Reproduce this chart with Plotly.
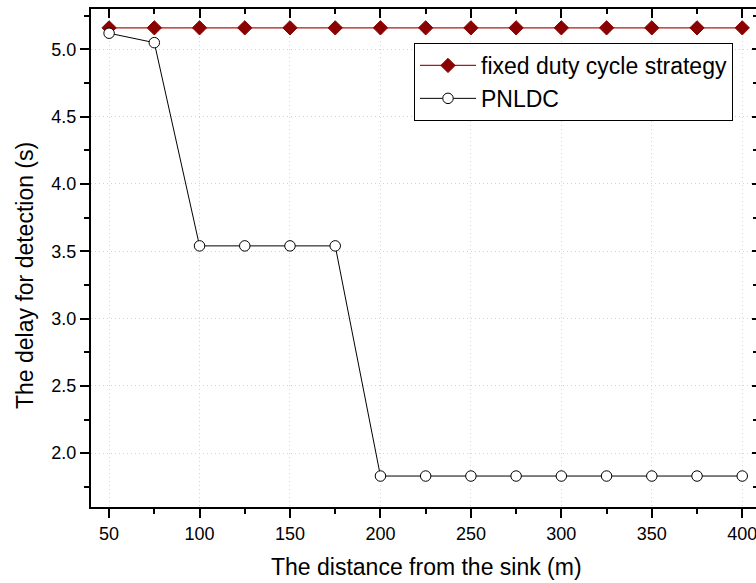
import plotly.graph_objects as go

# Distance from the sink (m)
distance = [50, 75, 100, 125, 150, 175, 200, 225, 250, 275, 300, 325, 350, 375, 400]

# Detection delay (s) for each strategy
delay_fixed = [5.16] * 15
delay_pnldc = [5.12, 5.05, 3.54, 3.54, 3.54, 3.54, 1.83, 1.83, 1.83, 1.83, 1.83, 1.83, 1.83, 1.83, 1.83]

x_ticks = [50, 100, 150, 200, 250, 300, 350, 400]
y_ticks = [2.0, 2.5, 3.0, 3.5, 4.0, 4.5, 5.0]

FONT = "Arial, Liberation Sans, sans-serif"
X_RANGE = [40, 407.6]
Y_RANGE = [1.6, 5.3]

fig = go.Figure()

fig.add_trace(go.Scatter(
    x=distance, y=delay_fixed, mode="lines+markers",
    name="fixed duty cycle strategy",
    line=dict(color="#b01818", width=1.2),
    marker=dict(symbol="diamond", size=11, color="#8b0000",
                line=dict(color="#8b0000", width=1)),
))
fig.add_trace(go.Scatter(
    x=distance, y=delay_pnldc, mode="lines+markers",
    name="PNLDC",
    line=dict(color="#000000", width=1),
    marker=dict(symbol="circle", size=10.5, color="#ffffff",
                line=dict(color="#000000", width=1)),
))

grid = dict(showgrid=True, gridcolor="#d4d4d4", griddash="1px,3px", gridwidth=1)

fig.update_layout(
    width=756, height=583,
    margin=dict(l=91, r=0, t=9, b=76),
    paper_bgcolor="white", plot_bgcolor="white",
    font=dict(family=FONT, color="#000000", size=18),
    showlegend=True,
    legend=dict(
        x=(414 - 91) / 665, xanchor="left",
        y=1 - (43 - 9) / 498, yanchor="top",
        bgcolor="white", bordercolor="#000000", borderwidth=1,
        font=dict(family=FONT, size=23, color="#000000"),
        itemwidth=56, tracegroupgap=0,
    ),
    xaxis=dict(
        range=X_RANGE, tickmode="array", tickvals=x_ticks,
        ticks="outside", ticklen=9, tickwidth=2, tickcolor="#000000",
        showline=True, linewidth=2, linecolor="#000000",
        minor=dict(ticks="outside", ticklen=5, tickwidth=2, dtick=25, tick0=50,
                   tickcolor="#000000", showgrid=False),
        tickfont=dict(size=18), ticklabeloverflow="allow", zeroline=False, **grid,
    ),
    yaxis=dict(
        range=Y_RANGE, tickmode="array", tickvals=y_ticks, tickformat=".1f",
        ticks="outside", ticklen=9, tickwidth=2, tickcolor="#000000",
        showline=True, linewidth=2, linecolor="#000000",
        minor=dict(ticks="outside", ticklen=5, tickwidth=2, dtick=0.25, tick0=2.0,
                   tickcolor="#000000", showgrid=False),
        tickfont=dict(size=18), zeroline=False, **grid,
    ),
    xaxis2=dict(
        range=X_RANGE, overlaying="x", side="top", anchor="y",
        tickmode="array", tickvals=x_ticks, showticklabels=False,
        ticks="inside", ticklen=9, tickwidth=2, tickcolor="#000000",
        showline=True, linewidth=2, linecolor="#000000",
        minor=dict(ticks="inside", ticklen=5, tickwidth=2, dtick=25, tick0=50,
                   tickcolor="#000000"),
        showgrid=False, zeroline=False,
    ),
    yaxis2=dict(
        range=Y_RANGE, overlaying="y", side="right", anchor="x",
        tickmode="array", tickvals=y_ticks, showticklabels=False,
        ticks="inside", ticklen=4, tickwidth=2, tickcolor="#000000",
        showline=False,
        minor=dict(ticks="inside", ticklen=3, tickwidth=2, dtick=0.25, tick0=2.0,
                   tickcolor="#000000"),
        showgrid=False, zeroline=False,
    ),
    annotations=[
        dict(text="The distance from the sink (m)", xref="paper", yref="paper",
             x=(426 - 91) / 665, y=-(567 - 507) / 498, xanchor="center", yanchor="middle",
             showarrow=False, font=dict(family=FONT, size=23, color="#000000")),
        dict(text="The delay for detection (s)", xref="paper", yref="paper",
             x=-(91 - 25) / 665, y=1 - (276 - 9) / 498, xanchor="center", yanchor="middle",
             textangle=-90, showarrow=False,
             font=dict(family=FONT, size=23, color="#000000")),
    ],
)

# Invisible helper trace so the mirrored top/right axes get drawn
fig.add_trace(go.Scatter(x=[None], y=[None], xaxis="x2", yaxis="y2",
                         showlegend=False, hoverinfo="skip"))

fig.write_html("out.html")
